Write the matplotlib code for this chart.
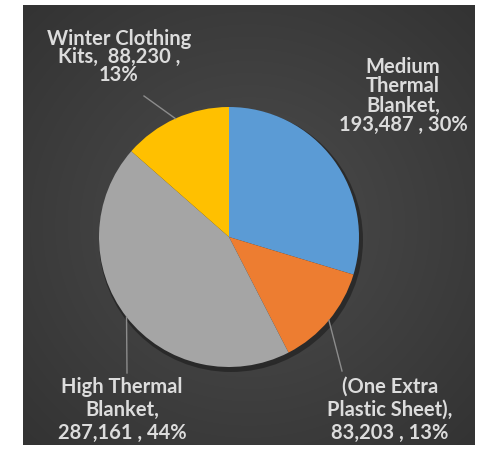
import numpy as np
import matplotlib.pyplot as plt
from matplotlib.patches import Circle

# data
labels = ["Medium\nThermal\nBlanket,", "(One Extra\nPlastic Sheet),",
          "High Thermal\nBlanket,", "Winter Clothing\nKits,"]
values = [193487, 83203, 287161, 88230]
percents = [30, 13, 44, 13]  # as printed on the chart
colors = ["#5B9BD5", "#ED7D31", "#A5A5A5", "#FFC000"]

W, H = 483, 456
fig = plt.figure(figsize=(W / 100, H / 100), dpi=100)
fig.patch.set_facecolor("white")
ax = fig.add_axes([0, 0, 1, 1])


def px(x, y):
    # pixel position measured from the top-left corner
    return x, H - y


# dark radial-gradient background
gx, gy = np.meshgrid(np.linspace(-1, 1, 300), np.linspace(-1, 1, 300))
r = np.sqrt(gx ** 2 + gy ** 2) / np.sqrt(2)
shade = 0.30 - 0.10 * r
bg = np.dstack([shade, shade, shade])
ax.imshow(bg, extent=(23, 475, H - 446, H - 6), zorder=0, interpolation="bilinear")

cx, cy = px(229, 238)
R = 130

# soft shadow under the pie
ax.add_patch(Circle((cx + 2, cy - 3), R + 2, color="black", alpha=0.35, zorder=1, lw=0))

wedges, _ = ax.pie(values, colors=colors, startangle=90, counterclock=False,
                   center=(cx, cy), radius=R, frame=True,
                   wedgeprops=dict(linewidth=0, zorder=2))
ax.set_xlim(0, W)
ax.set_ylim(0, H)
ax.set_aspect("equal")
ax.axis("off")

texts = [f"{labels[0]}\n{values[0]:,} , {percents[0]}%",
         f"{labels[1]}\n{values[1]:,} , {percents[1]}%",
         f"{labels[2]}\n{values[2]:,} , {percents[2]}%",
         f"{labels[3]}  {values[3]:,} ,\n{percents[3]}%"]

label_pos = [px(403, 96), px(390, 410), px(122, 410), px(119, 57)]
spacing = [0.95, 1.2, 1.2, 0.9]
line_end = [None, px(342, 372), px(127, 374), px(144, 97)]

for i, w in enumerate(wedges):
    ax.text(*label_pos[i], texts[i], ha="center", va="center", color="#dcdcdc",
            fontsize=14.5, fontweight="bold", family=["Lato", "DejaVu Sans"],
            linespacing=spacing[i], zorder=4)
    if line_end[i] is not None:
        mid = np.deg2rad((w.theta1 + w.theta2) / 2)
        sx, sy = cx + R * np.cos(mid), cy + R * np.sin(mid)
        ax.plot([sx, line_end[i][0]], [sy, line_end[i][1]], color="#8c8c8c",
                lw=1.0, zorder=3)

fig.savefig("out.png", dpi=100)
